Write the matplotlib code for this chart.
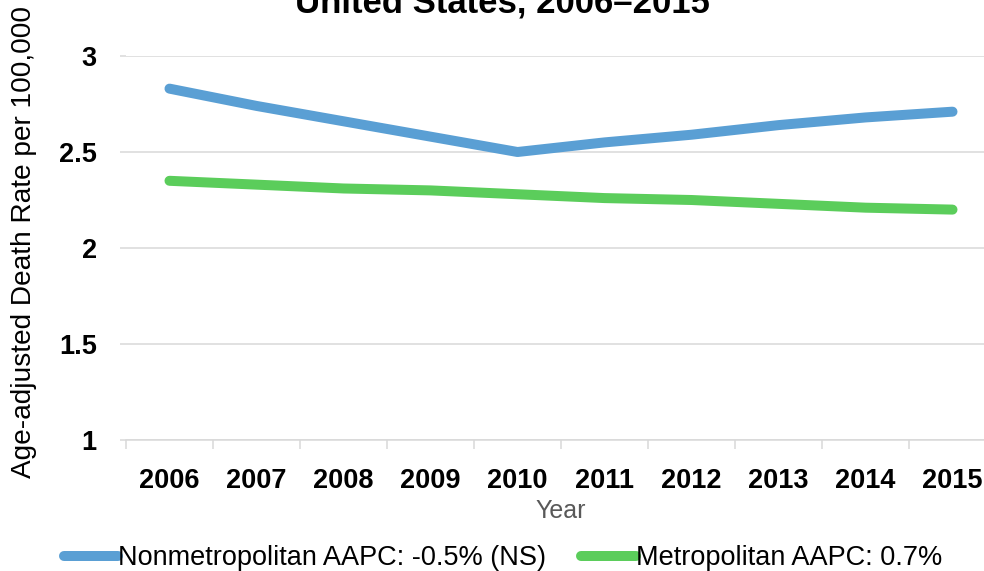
import matplotlib.pyplot as plt
from matplotlib.ticker import FixedLocator

# data
years = ['2006', '2007', '2008', '2009', '2010', '2011', '2012', '2013', '2014', '2015']
nonmetro = [2.83, 2.74, 2.66, 2.58, 2.50, 2.55, 2.59, 2.64, 2.68, 2.71]
metro = [2.35, 2.33, 2.31, 2.30, 2.28, 2.26, 2.25, 2.23, 2.21, 2.20]
yticks = [1, 1.5, 2, 2.5, 3]
legend_labels = ['Nonmetropolitan AAPC: -0.5% (NS)', 'Metropolitan AAPC: 0.7%']

plt.rcParams['font.family'] = ['Liberation Sans', 'DejaVu Sans']

fig = plt.figure(figsize=(9.84, 5.71), dpi=100)
# plot area runs a little past the right edge, like the cropped original
ax = fig.add_axes([126 / 984, 1 - 440 / 571, 870 / 984, 384 / 571])

x = list(range(len(years)))
l1, = ax.plot(x, nonmetro, color='#5a9fd4', lw=7.2, solid_capstyle='round', solid_joinstyle='round')
l2, = ax.plot(x, metro, color='#5bcd5b', lw=7.2, solid_capstyle='round', solid_joinstyle='round')

ax.set_xlim(-0.5, len(years) - 0.5)
ax.set_ylim(1, 3)

# gridlines and spines
ax.set_yticks(yticks)
ax.set_yticklabels(['1', '1.5', '2', '2.5', '3'], fontsize=19.5, fontweight='bold')
ax.yaxis.grid(True, color='#d9d9d9', lw=1.1)
ax.set_axisbelow(True)
for s in ['top', 'right', 'left']:
    ax.spines[s].set_visible(False)
ax.spines['bottom'].set_color('#d9d9d9')
ax.spines['bottom'].set_linewidth(1.1)
ax.tick_params(axis='y', length=4, color='#d9d9d9', width=1.1, pad=17)

ax.set_xticks(x)
ax.set_xticklabels(years, fontsize=19.5, fontweight='bold')
ax.tick_params(axis='x', which='major', length=0, pad=20.5)
ax.xaxis.set_minor_locator(FixedLocator([i - 0.5 for i in range(len(years) + 1)]))
ax.tick_params(axis='x', which='minor', length=6.5, color='#d9d9d9', width=1.1)

ax.set_xlabel('Year', fontsize=18, color='#595959', labelpad=3.5)
fig.text(24 / 984, 1 - 242 / 571, 'Age-adjusted Death Rate per 100,000', rotation=90,
         fontsize=20.2, ha='center', va='center')

# title, second line only (top is cut off in the original)
fig.text(502 / 984, 1 - 12.5 / 571, 'United States, 2006\u20132015', fontsize=25,
         fontweight='bold', ha='center', va='baseline')

fig.legend([l1, l2], legend_labels, loc='center', bbox_to_anchor=(503 / 984, 1 - 558 / 571),
           ncol=2, frameon=False, fontsize=19.5, handlelength=2.0, handletextpad=0.0,
           columnspacing=1.3, borderaxespad=0, borderpad=0)

fig.savefig('out.png', dpi=100)
